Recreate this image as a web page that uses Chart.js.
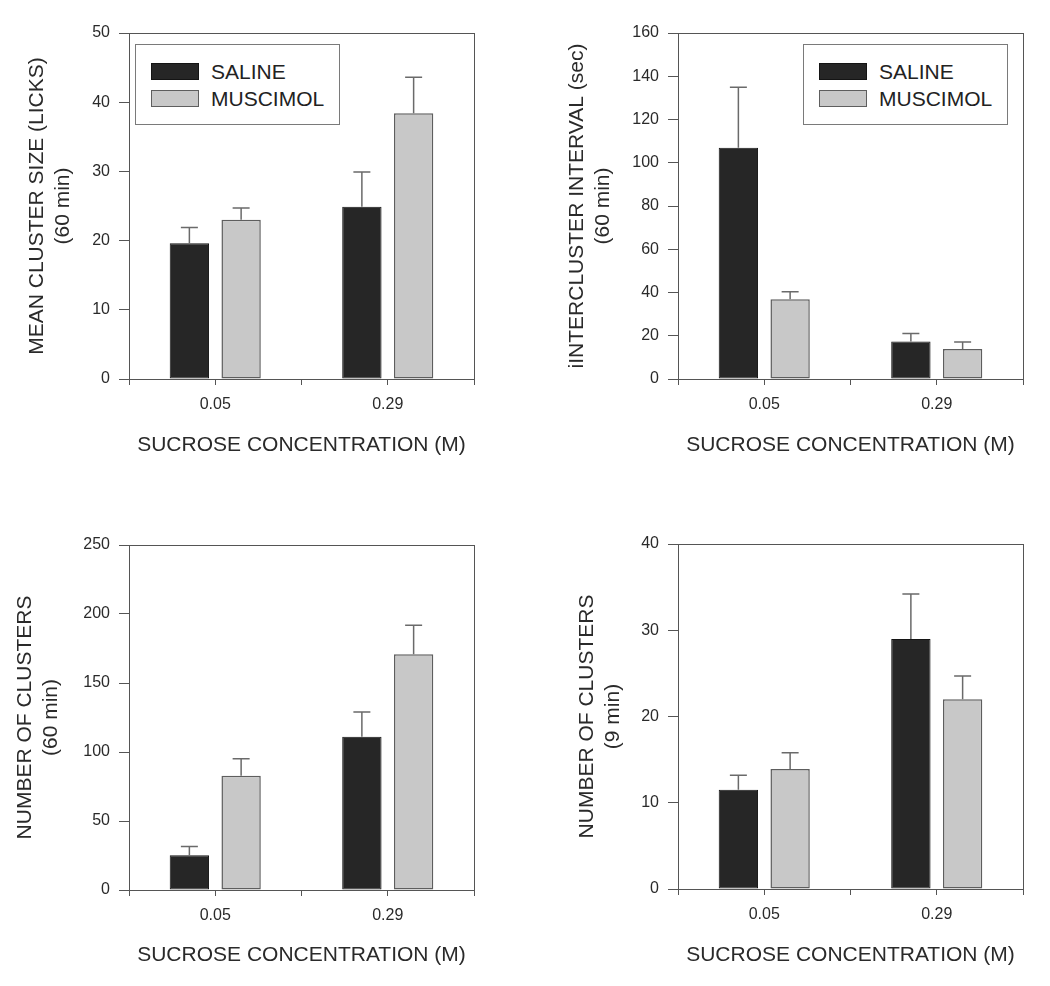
<!DOCTYPE html>
<html><head><meta charset="utf-8">
<script src="https://cdn.jsdelivr.net/npm/chart.js@4.4.1/dist/chart.umd.min.js"></script>
<style>
html,body{margin:0;padding:0;background:#fff;}
#wrap{position:relative;width:1050px;height:986px;overflow:hidden;background:#fff;}
.panel{position:absolute;width:525px;height:493px;}
.panel canvas{display:block;}
.legend{position:absolute;border:1px solid #7a7a7a;background:#fff;box-sizing:border-box;font-family:"Liberation Sans",Arial,sans-serif;font-size:21px;color:#222;}
.legend .item{position:absolute;height:17px;display:flex;align-items:center;white-space:nowrap;}
.legend .sw{width:48px;height:17px;box-sizing:border-box;margin-right:12px;flex:none;}
</style></head>
<body><div id="wrap">
<div class="panel" style="left:0;top:0"><canvas id="c1" width="525" height="493"></canvas></div>
<div class="panel" style="left:525px;top:0"><canvas id="c2" width="525" height="493"></canvas></div>
<div class="panel" style="left:0;top:493px"><canvas id="c3" width="525" height="493"></canvas></div>
<div class="panel" style="left:525px;top:493px"><canvas id="c4" width="525" height="493"></canvas></div>
</div>
<script>
// ---------- DATA ----------
const categories = ['0.05', '0.29'];
const seriesNames = ['SALINE', 'MUSCIMOL'];
const xAxisTitle = 'SUCROSE CONCENTRATION (M)';

// Panel A: mean cluster size (licks), 60 min
const sizeTitle = ['MEAN CLUSTER SIZE (LICKS)', '(60 min)'];
const sizeTicks = [0, 10, 20, 30, 40, 50];
const sizeSaline = [19.6, 24.9];
const sizeSalineSem = [2.3, 5.0];
const sizeMuscimol = [23.0, 38.4];
const sizeMuscimolSem = [1.7, 5.2];

// Panel B: intercluster interval (sec), 60 min
const intervalTitle = ['iINTERCLUSTER INTERVAL (sec)', '(60 min)'];
const intervalTicks = [0, 20, 40, 60, 80, 100, 120, 140, 160];
const intervalSaline = [106.9, 17.3];
const intervalSalineSem = [28.0, 3.7];
const intervalMuscimol = [36.9, 13.9];
const intervalMuscimolSem = [3.5, 3.2];

// Panel C: number of clusters, 60 min
const clusters60Title = ['NUMBER OF CLUSTERS', '(60 min)'];
const clusters60Ticks = [0, 50, 100, 150, 200, 250];
const clusters60Saline = [25.1, 111.1];
const clusters60SalineSem = [6.5, 17.9];
const clusters60Muscimol = [82.8, 170.9];
const clusters60MuscimolSem = [12.3, 20.9];

// Panel D: number of clusters, 9 min
const clusters9Title = ['NUMBER OF CLUSTERS', '(9 min)'];
const clusters9Ticks = [0, 10, 20, 30, 40];
const clusters9Saline = [11.5, 29.0];
const clusters9SalineSem = [1.7, 5.2];
const clusters9Muscimol = [13.9, 22.0];
const clusters9MuscimolSem = [1.9, 2.7];

// ---------- STYLE ----------
const FONT = '"Liberation Sans", Arial, Helvetica, sans-serif';
Chart.defaults.font.family = FONT;
const AXIS = '#555';
const TXT = '#2a2a2a';
const COLORS = [
  {bg: '#262626', border: '#141414', bw: 1},
  {bg: '#c8c8c8', border: '#5e5e5e', bw: 1.5}
];

const errorBars = {
  id: 'errorBars',
  afterDatasetsDraw(chart, args, o) {
    const ctx = chart.ctx, y = chart.scales.y;
    ctx.save();
    ctx.strokeStyle = o.color;
    ctx.lineWidth = o.width;
    chart.data.datasets.forEach((ds, di) => {
      const meta = chart.getDatasetMeta(di);
      meta.data.forEach((bar, i) => {
        const top = y.getPixelForValue(ds.data[i].y + ds.errors[i]);
        ctx.beginPath();
        ctx.moveTo(bar.x, bar.y);
        ctx.lineTo(bar.x, top);
        ctx.moveTo(bar.x - o.cap / 2, top);
        ctx.lineTo(bar.x + o.cap / 2, top);
        ctx.stroke();
      });
    });
    ctx.restore();
  }
};

function htmlLegend(chart, L) {
  const panel = chart.canvas.parentNode;
  const box = document.createElement('div');
  box.className = 'legend';
  const ca = chart.chartArea;
  box.style.width = L.w + 'px';
  box.style.height = L.h + 'px';
  box.style.top = (ca.top + L.dy) + 'px';
  if (L.side === 'left') box.style.left = (ca.left + L.dx) + 'px';
  else box.style.left = (ca.right - L.dx - L.w) + 'px';
  chart.data.datasets.forEach((ds, i) => {
    const it = document.createElement('div');
    it.className = 'item';
    it.style.left = '15px';
    it.style.top = (18 + i * 27) + 'px';
    const sw = document.createElement('span');
    sw.className = 'sw';
    sw.style.background = ds.backgroundColor;
    sw.style.border = ds.borderWidth + 'px solid ' + ds.borderColor;
    const tx = document.createElement('span');
    tx.textContent = ds.label;
    it.appendChild(sw); it.appendChild(tx);
    box.appendChild(it);
  });
  panel.appendChild(box);
}

function makePanel(id, ticks, title, series, errs, L) {
  const datasets = series.map((vals, s) => ({
    label: seriesNames[s],
    data: vals.map((v, i) => ({x: i + 0.5, y: v})),
    errors: errs[s],
    backgroundColor: COLORS[s].bg,
    borderColor: COLORS[s].border,
    borderWidth: COLORS[s].bw,
    borderSkipped: false,
    categoryPercentage: 1.2,
    barPercentage: 0.76
  }));
  const chart = new Chart(document.getElementById(id), {
    type: 'bar',
    data: {datasets},
    plugins: [errorBars],
    options: {
      responsive: false,
      animation: false,
      devicePixelRatio: 1,
      layout: {padding: {left: 0, top: L.top, right: 525 - L.right, bottom: 0}},
      plugins: {
        legend: {display: false},
        tooltip: {enabled: false},
        errorBars: {color: '#6a6a6a', width: 1.5, cap: 17}
      },
      scales: {
        x: {
          type: 'linear', position: 'bottom', min: 0, max: categories.length, offset: false,
          afterFit(s) { s.height = 493 - L.bottom; },
          ticks: {
            stepSize: 0.5, autoSkip: false, maxRotation: 0, padding: 10, color: TXT,
            font: {size: 16},
            callback(v) { const i = v - 0.5; return (Number.isInteger(i) && categories[i] !== undefined) ? categories[i] : ''; }
          },
          grid: {display: true, drawOnChartArea: false, drawTicks: true, tickLength: 6, color: AXIS, offset: false, lineWidth: 1},
          border: {display: true, color: AXIS, width: 1},
          title: {display: true, text: xAxisTitle, color: TXT, font: {size: 21}, padding: {top: 0, bottom: L.xPad}}
        },
        y: {
          type: 'linear', position: 'left',
          min: ticks[0], max: ticks[ticks.length - 1],
          afterFit(s) { s.width = L.left; },
          ticks: {stepSize: ticks[1] - ticks[0], padding: 9, color: TXT, font: {size: 16}},
          grid: {display: true, drawOnChartArea: false, drawTicks: true, tickLength: 10, color: AXIS, lineWidth: 1},
          border: {display: true, color: AXIS, width: 1},
          title: {display: true, text: title, color: TXT, font: {size: 21, lineHeight: '26px'}, padding: {top: L.yPad, bottom: 0}}
        },
        x2: {
          type: 'linear', position: 'top', min: 0, max: 1, offset: false,
          ticks: {display: false}, grid: {display: false, drawTicks: false},
          border: {display: true, color: AXIS, width: 1},
          afterFit(s) { s.height = 0; }
        },
        y2: {
          type: 'linear', position: 'right', min: 0, max: 1,
          ticks: {display: false}, grid: {display: false, drawTicks: false},
          border: {display: true, color: AXIS, width: 1},
          afterFit(s) { s.width = 0; }
        }
      }
    }
  });
  if (L.legend) htmlLegend(chart, L.legend);
  return chart;
}

makePanel('c1', sizeTicks, sizeTitle, [sizeSaline, sizeMuscimol], [sizeSalineSem, sizeMuscimolSem],
  {left: 129, top: 33, right: 474, bottom: 379, xPad: 35, yPad: 24,
   legend: {side: 'left', dx: 6, dy: 11, w: 205, h: 81}});
makePanel('c2', intervalTicks, intervalTitle, [intervalSaline, intervalMuscimol], [intervalSalineSem, intervalMuscimolSem],
  {left: 153, top: 33, right: 498, bottom: 379, xPad: 35, yPad: 39,
   legend: {side: 'right', dx: 15, dy: 11, w: 205, h: 81}});
makePanel('c3', clusters60Ticks, clusters60Title, [clusters60Saline, clusters60Muscimol], [clusters60SalineSem, clusters60MuscimolSem],
  {left: 129, top: 52, right: 474, bottom: 397, xPad: 18, yPad: 12});
makePanel('c4', clusters9Ticks, clusters9Title, [clusters9Saline, clusters9Muscimol], [clusters9SalineSem, clusters9MuscimolSem],
  {left: 153, top: 51, right: 498, bottom: 396, xPad: 18, yPad: 49});
</script>
</body></html>
